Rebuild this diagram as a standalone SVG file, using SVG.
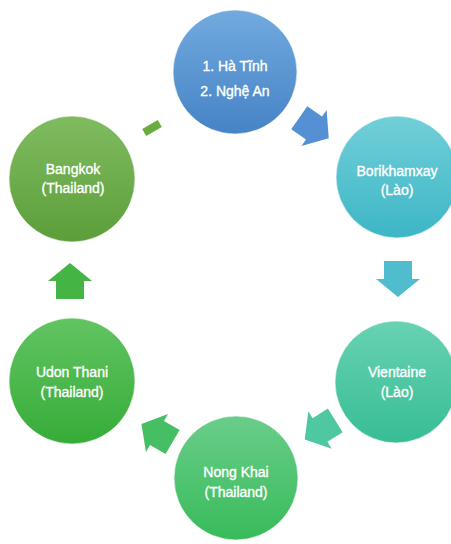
<svg xmlns="http://www.w3.org/2000/svg" width="451" height="544" viewBox="0 0 451 544">
<style>
.lbl{font-family:"Liberation Sans",Arial,sans-serif;font-size:14px;fill:#ffffff;stroke:#ffffff;stroke-width:0.35;text-anchor:middle}
.node circle{stroke:#ffffff;stroke-opacity:0.6;stroke-width:1}
</style>
<defs>
<linearGradient id="g1" x1="0" y1="0" x2="0" y2="1"><stop offset="0" stop-color="#72aadf"/><stop offset="1" stop-color="#4683c6"/></linearGradient>
<linearGradient id="g2" x1="0" y1="0" x2="0" y2="1"><stop offset="0" stop-color="#72cfd8"/><stop offset="1" stop-color="#3db6c6"/></linearGradient>
<linearGradient id="g3" x1="0" y1="0" x2="0" y2="1"><stop offset="0" stop-color="#68d2b4"/><stop offset="1" stop-color="#38bd94"/></linearGradient>
<linearGradient id="g4" x1="0" y1="0" x2="0" y2="1"><stop offset="0" stop-color="#6acd8a"/><stop offset="1" stop-color="#38bb5a"/></linearGradient>
<linearGradient id="g5" x1="0" y1="0" x2="0" y2="1"><stop offset="0" stop-color="#62c462"/><stop offset="1" stop-color="#36ac38"/></linearGradient>
<linearGradient id="g6" x1="0" y1="0" x2="0" y2="1"><stop offset="0" stop-color="#80bb60"/><stop offset="1" stop-color="#5c9e3a"/></linearGradient>
<path id="arr" d="M-18,-14 L0,-14 L0,-22 L18,0 L0,22 L0,14 L-18,14 Z"/>
</defs>
<g id="connectors">
<use href="#arr" transform="translate(314,128) rotate(35)" fill="#5590d4"/>
<use href="#arr" transform="translate(398,279) rotate(90)" fill="#4fbdcd"/>
<use href="#arr" transform="translate(320,430) rotate(148)" fill="#4fc8a2"/>
<use href="#arr" transform="translate(157,433) rotate(-150)" fill="#46bf64"/>
<use href="#arr" transform="translate(70,281) rotate(-90)" fill="#44b444"/>
<rect x="-9" y="-4" width="18" height="8" transform="translate(152,128) rotate(-30)" fill="#6aad3e"/>
</g>
<g id="n1" class="node"><circle cx="235" cy="72" r="62" fill="url(#g1)"/><text class="lbl" x="235" y="71">1. Hà Tĩnh</text><text class="lbl" x="235" y="96">2. Nghệ An</text></g>
<g id="n2" class="node"><circle cx="397" cy="177" r="61" fill="url(#g2)"/><text class="lbl" x="397" y="176">Borikhamxay</text><text class="lbl" x="397" y="195">(Lào)</text></g>
<g id="n3" class="node"><circle cx="396" cy="382" r="61" fill="url(#g3)"/><text class="lbl" x="397" y="377">Vientaine</text><text class="lbl" x="397" y="397">(Lào)</text></g>
<g id="n4" class="node"><circle cx="236" cy="478" r="62" fill="url(#g4)"/><text class="lbl" x="236" y="477">Nong Khai</text><text class="lbl" x="236" y="497">(Thailand)</text></g>
<g id="n5" class="node"><circle cx="72" cy="381" r="63" fill="url(#g5)"/><text class="lbl" x="72" y="377">Udon Thani</text><text class="lbl" x="72" y="397">(Thailand)</text></g>
<g id="n6" class="node"><circle cx="72" cy="179" r="63" fill="url(#g6)"/><text class="lbl" x="73" y="174">Bangkok</text><text class="lbl" x="73" y="193">(Thailand)</text></g>
</svg>
